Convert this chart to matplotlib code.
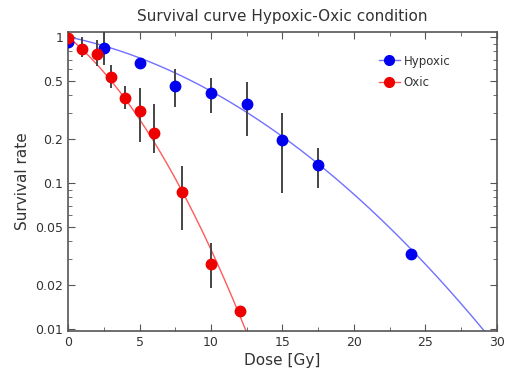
import numpy as np
import matplotlib
matplotlib.use("Agg")
from matplotlib import pyplot as plt
from matplotlib.ticker import FixedLocator, FixedFormatter, MultipleLocator, LogLocator, NullFormatter

# measured survival fractions
hyp_dose = [0, 2.5, 5, 7.5, 10, 12.5, 15, 17.5, 24]
hyp_surv = [0.92, 0.84, 0.66, 0.46, 0.41, 0.35, 0.197, 0.133, 0.0327]
hyp_lo = [0.92, 0.64, 0.66, 0.33, 0.30, 0.21, 0.085, 0.092, 0.0327]
hyp_hi = [0.92, 1.15, 0.66, 0.60, 0.52, 0.49, 0.30, 0.174, 0.0327]

oxic_dose = [0, 1, 2, 3, 4, 5, 6, 8, 10, 12]
oxic_surv = [0.98, 0.83, 0.76, 0.53, 0.38, 0.31, 0.22, 0.087, 0.028, 0.0133]
oxic_lo = [0.98, 0.73, 0.63, 0.45, 0.32, 0.19, 0.16, 0.048, 0.019, 0.0133]
oxic_hi = [0.98, 1.0, 0.95, 0.64, 0.46, 0.45, 0.35, 0.13, 0.039, 0.0133]

# linear-quadratic fit parameters (alpha, beta)
hyp_lq = (0.0470, 0.00385)
oxic_lq = (0.1844, 0.01507)

y_ticks = [0.01, 0.02, 0.05, 0.1, 0.2, 0.5, 1]
y_labels = ["0.01", "0.02", "0.05", "0.1", "0.2", "0.5", "1"]


def lq(d, params):
    a, b = params
    return np.exp(-a * d - b * d ** 2)


fig = plt.figure(figsize=(5.08, 3.72), dpi=100)
ax = fig.add_axes([0.134, 0.110, 0.844, 0.804])

edge = "#555555"
for label, dose, surv, lo, hi, params, mc, lc, dmax in [
    ("Hypoxic", hyp_dose, hyp_surv, hyp_lo, hyp_hi, hyp_lq, "#0000ee", "#7070ff", 30),
    ("Oxic", oxic_dose, oxic_surv, oxic_lo, oxic_hi, oxic_lq, "#ee0000", "#ff5a5a", 13),
]:
    d = np.linspace(0, dmax, 300)
    ax.plot(d, lq(d, params), color=lc, lw=1.0, zorder=2)
    surv = np.array(surv)
    yerr = [surv - np.array(lo), np.array(hi) - surv]
    ax.errorbar(dose, surv, yerr=yerr, fmt="none", ecolor="#444444", elinewidth=1.4, zorder=3)
    ax.plot(dose, surv, "o", color=mc, ms=7.5, mec=mc, zorder=4)
    ax.plot([], [], "-o", color=lc, mfc=mc, mec=mc, ms=7, lw=1.0, label=label)

ax.set_yscale("log")
ax.set_xlim(0, 30)
ax.set_ylim(0.0097, 1.08)
ax.xaxis.set_major_locator(MultipleLocator(5))
ax.xaxis.set_minor_locator(MultipleLocator(2.5))
ax.yaxis.set_major_locator(FixedLocator(y_ticks))
ax.yaxis.set_major_formatter(FixedFormatter(y_labels))
ax.yaxis.set_minor_locator(LogLocator(base=10, subs=(3, 4, 6, 7, 8, 9)))
ax.yaxis.set_minor_formatter(NullFormatter())

ax.tick_params(which="both", direction="in", top=True, right=True, colors=edge,
               labelcolor="#333333", labelsize=9)
ax.tick_params(which="major", length=5)
ax.tick_params(which="minor", length=3)
for s in ax.spines.values():
    s.set_color(edge)
    s.set_linewidth(1.2)

ax.set_title("Survival curve Hypoxic-Oxic condition", fontsize=11, color="#333333", pad=8)
ax.set_xlabel("Dose [Gy]", fontsize=11, color="#333333", labelpad=3)
ax.set_ylabel("Survival rate", fontsize=11, color="#333333", labelpad=4)

ax.legend(loc="upper left", bbox_to_anchor=(0.70, 0.96), frameon=False, fontsize=8.5,
          handlelength=1.8, handletextpad=0.3, labelspacing=0.75, labelcolor="#333333")

fig.savefig("out.png", dpi=100)
